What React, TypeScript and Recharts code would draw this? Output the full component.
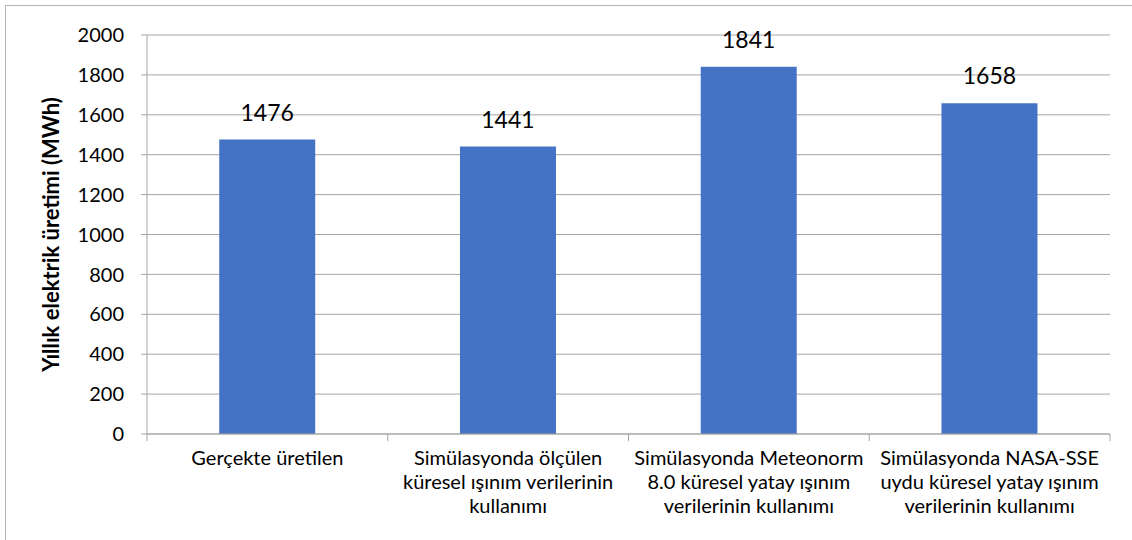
import { BarChart, Bar, XAxis, YAxis, CartesianGrid, LabelList } from 'recharts';

const categories = [
  'Gerçekte üretilen',
  'Simülasyonda ölçülen\nküresel ışınım verilerinin\nkullanımı',
  'Simülasyonda Meteonorm\n8.0 küresel yatay ışınım\nverilerinin kullanımı',
  'Simülasyonda NASA-SSE\nuydu küresel yatay ışınım\nverilerinin kullanımı',
];
const production = [1476, 1441, 1841, 1658];
const yTicks = [0, 200, 400, 600, 800, 1000, 1200, 1400, 1600, 1800, 2000];
const yLabel = 'Yıllık elektrik üretimi (MWh)';

const data = categories.map((name, i) => ({ name, value: production[i] }));

const FONT = 'Lato, "Open Sans", sans-serif';
const GRID = '#a6a6a6';

const W = 1132;
const H = 540;
const X_AXIS_H = 30;
const MARGIN = { top: 35, right: 22, bottom: 106 - X_AXIS_H, left: 0 };
const Y_AXIS_W = 147;
const BAND = (W - MARGIN.right - Y_AXIS_W) / categories.length;

// x tick: wrapped label + boundary tick marks like Excel
function CategoryTick(props: any) {
  const { x, y, payload, index } = props;
  const lines = String(payload.value).split('\n');
  const left = x - BAND / 2;
  const right = x + BAND / 2;
  return (
    <g>
      <line x1={left} y1={y} x2={left} y2={y + 7} stroke={GRID} />
      {index === categories.length - 1 && <line x1={right} y1={y} x2={right} y2={y + 7} stroke={GRID} />}
      <text x={x} y={y + 31} textAnchor="middle" fontSize={20} fill="#000" fontFamily={FONT}>
        {lines.map((l, i) => (
          <tspan key={i} x={x} dy={i === 0 ? 0 : 24}>{l}</tspan>
        ))}
      </text>
    </g>
  );
}

function YTitle(props: any) {
  const vb = props.viewBox || {};
  const cy = (vb.y ?? MARGIN.top) + (vb.height ?? 399) / 2;
  const cx = 50;
  return (
    <text x={cx} y={cy} transform={`rotate(-90 ${cx} ${cy})`} textAnchor="middle" dominantBaseline="central"
      fontSize={22} fontWeight={700} fill="#000" fontFamily={FONT}>
      {yLabel}
    </text>
  );
}

export default function App() {
  return (
    <div style={{ position: 'absolute', left: 0, top: 0, width: W, height: H, overflow: 'hidden', background: '#fff' }}>
      <div style={{ position: 'absolute', left: 5, top: 5, width: W + 20, height: H + 20, border: '1px solid #b4b4b4', boxSizing: 'border-box' }} />
      <div style={{ position: 'absolute', left: 0, top: 0 }}>
        <BarChart width={W} height={H} data={data} margin={MARGIN} barCategoryGap="30%">
          <CartesianGrid vertical={false} stroke={GRID} strokeWidth={1} />
          <XAxis
            dataKey="name"
            height={X_AXIS_H}
            interval={0}
            tickSize={0}
            tickMargin={0}
            tickLine={false}
            axisLine={{ stroke: GRID }}
            tick={<CategoryTick />}
          />
          <YAxis
            width={Y_AXIS_W}
            domain={[0, 2000]}
            ticks={yTicks}
            interval={0}
            tickSize={6}
            tickMargin={17}
            axisLine={{ stroke: GRID }}
            tickLine={{ stroke: GRID }}
            tick={{ fontSize: 20, fill: '#000', fontFamily: FONT }}
            label={<YTitle />}
          />
          <Bar dataKey="value" fill="#4472c4" isAnimationActive={false}>
            <LabelList dataKey="value" position="top" offset={19} fontSize={23} fill="#000" fontFamily={FONT} />
          </Bar>
        </BarChart>
      </div>
    </div>
  );
}
